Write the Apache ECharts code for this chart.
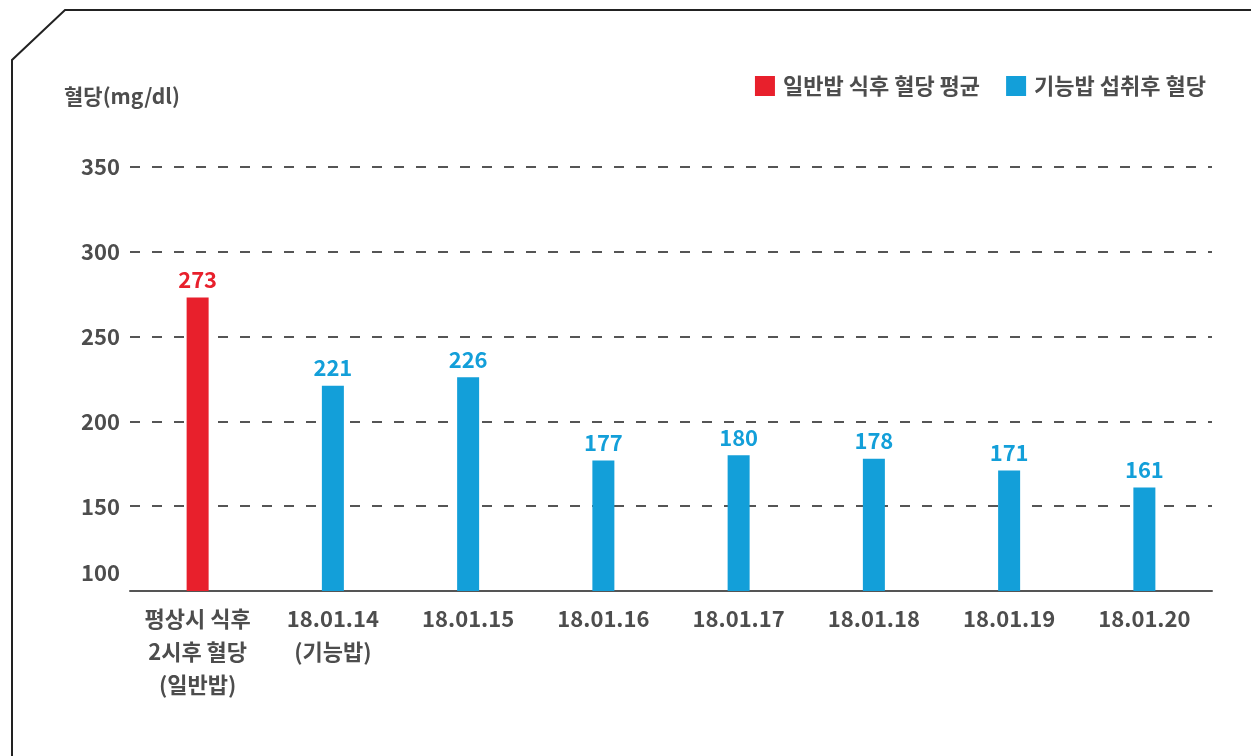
<!DOCTYPE html>
<html>
<head>
<meta charset="utf-8">
<script src="https://cdn.jsdelivr.net/npm/echarts@6/dist/echarts.min.js"></script>
<style>
    html, body { margin: 0; padding: 0; background: #fff; }
    #chart { width: 1251px; height: 756px; }
</style>
</head>
<body>
<div id="chart"></div>
<script>
const categories = ['평상시 식후\n2시후 혈당\n(일반밥)', '18.01.14\n(기능밥)', '18.01.15', '18.01.16', '18.01.17', '18.01.18', '18.01.19', '18.01.20'];
const normalRice = [273, '-', '-', '-', '-', '-', '-', '-'];
const functionalRice = ['-', 221, 226, 177, 180, 178, 171, 161];
const yTicks = [100, 150, 200, 250, 300, 350];

const FONT = '"Noto Sans CJK KR", "Noto Sans", sans-serif';
const TEXT = '#4d4d4d';
const RED = '#e8202c';
const BLUE = '#139fd9';

const chart = echarts.init(document.getElementById('chart'));

const option = {
    animation: false,
    textStyle: { fontFamily: FONT },
    // 테두리 (왼쪽 위 모서리 잘림)
    graphic: [{
        type: 'polyline',
        shape: { points: [[12, 756], [12, 60], [65, 10], [1260, 10]] },
        style: { stroke: '#222', lineWidth: 2, fill: null }
    }],
    legend: {
        right: 40,
        top: 70,
        itemWidth: 20,
        itemHeight: 20,
        itemGap: 26,
        icon: 'rect',
        textStyle: { fontFamily: FONT, fontSize: 22, fontWeight: 'bold', color: TEXT, padding: [0, 0, 0, 3] },
        data: ['일반밥 식후 혈당 평균', '기능밥 섭취후 혈당']
    },
    grid: { left: 130, right: 39, top: 167, bottom: 165 },
    xAxis: {
        type: 'category',
        data: categories,
        axisLine: { lineStyle: { color: '#555', width: 2 } },
        axisTick: { show: false },
        axisLabel: {
            fontFamily: FONT, fontSize: 22, fontWeight: 'bold', color: TEXT,
            lineHeight: 33, margin: 11, interval: 0
        }
    },
    yAxis: {
        type: 'value',
        name: '혈당(mg/dl)',
        nameLocation: 'end',
        nameGap: 60,
        nameTextStyle: {
            fontFamily: FONT, fontSize: 21, fontWeight: 'bold', color: TEXT,
            align: 'left', padding: [0, 0, 0, -66]
        },
        min: yTicks[0],
        max: yTicks[yTicks.length - 1],
        interval: 50,
        axisLine: { show: false },
        axisTick: { show: false },
        splitLine: { lineStyle: { color: '#555', width: 2, type: [10, 12] } },
        axisLabel: {
            fontFamily: FONT, fontSize: 22, fontWeight: 'bold', color: TEXT, margin: 10,
            formatter: function (v) {
                return v === yTicks[0] ? '{low|' + v + '}' : v;
            },
            rich: {
                low: { fontFamily: FONT, fontSize: 22, fontWeight: 'bold', color: TEXT, padding: [0, 0, 36, 0] }
            }
        }
    },
    series: [
        {
            name: '일반밥 식후 혈당 평균',
            type: 'bar',
            barWidth: 22,
            barGap: '-100%',
            itemStyle: { color: RED },
            label: {
                show: true, position: 'top', distance: 7,
                fontFamily: FONT, fontSize: 22, fontWeight: 'bold', color: RED
            },
            data: normalRice
        },
        {
            name: '기능밥 섭취후 혈당',
            type: 'bar',
            barWidth: 22,
            barGap: '-100%',
            itemStyle: { color: BLUE },
            label: {
                show: true, position: 'top', distance: 7,
                fontFamily: FONT, fontSize: 22, fontWeight: 'bold', color: BLUE
            },
            data: functionalRice
        }
    ]
};

chart.setOption(option);
</script>
</body>
</html>
